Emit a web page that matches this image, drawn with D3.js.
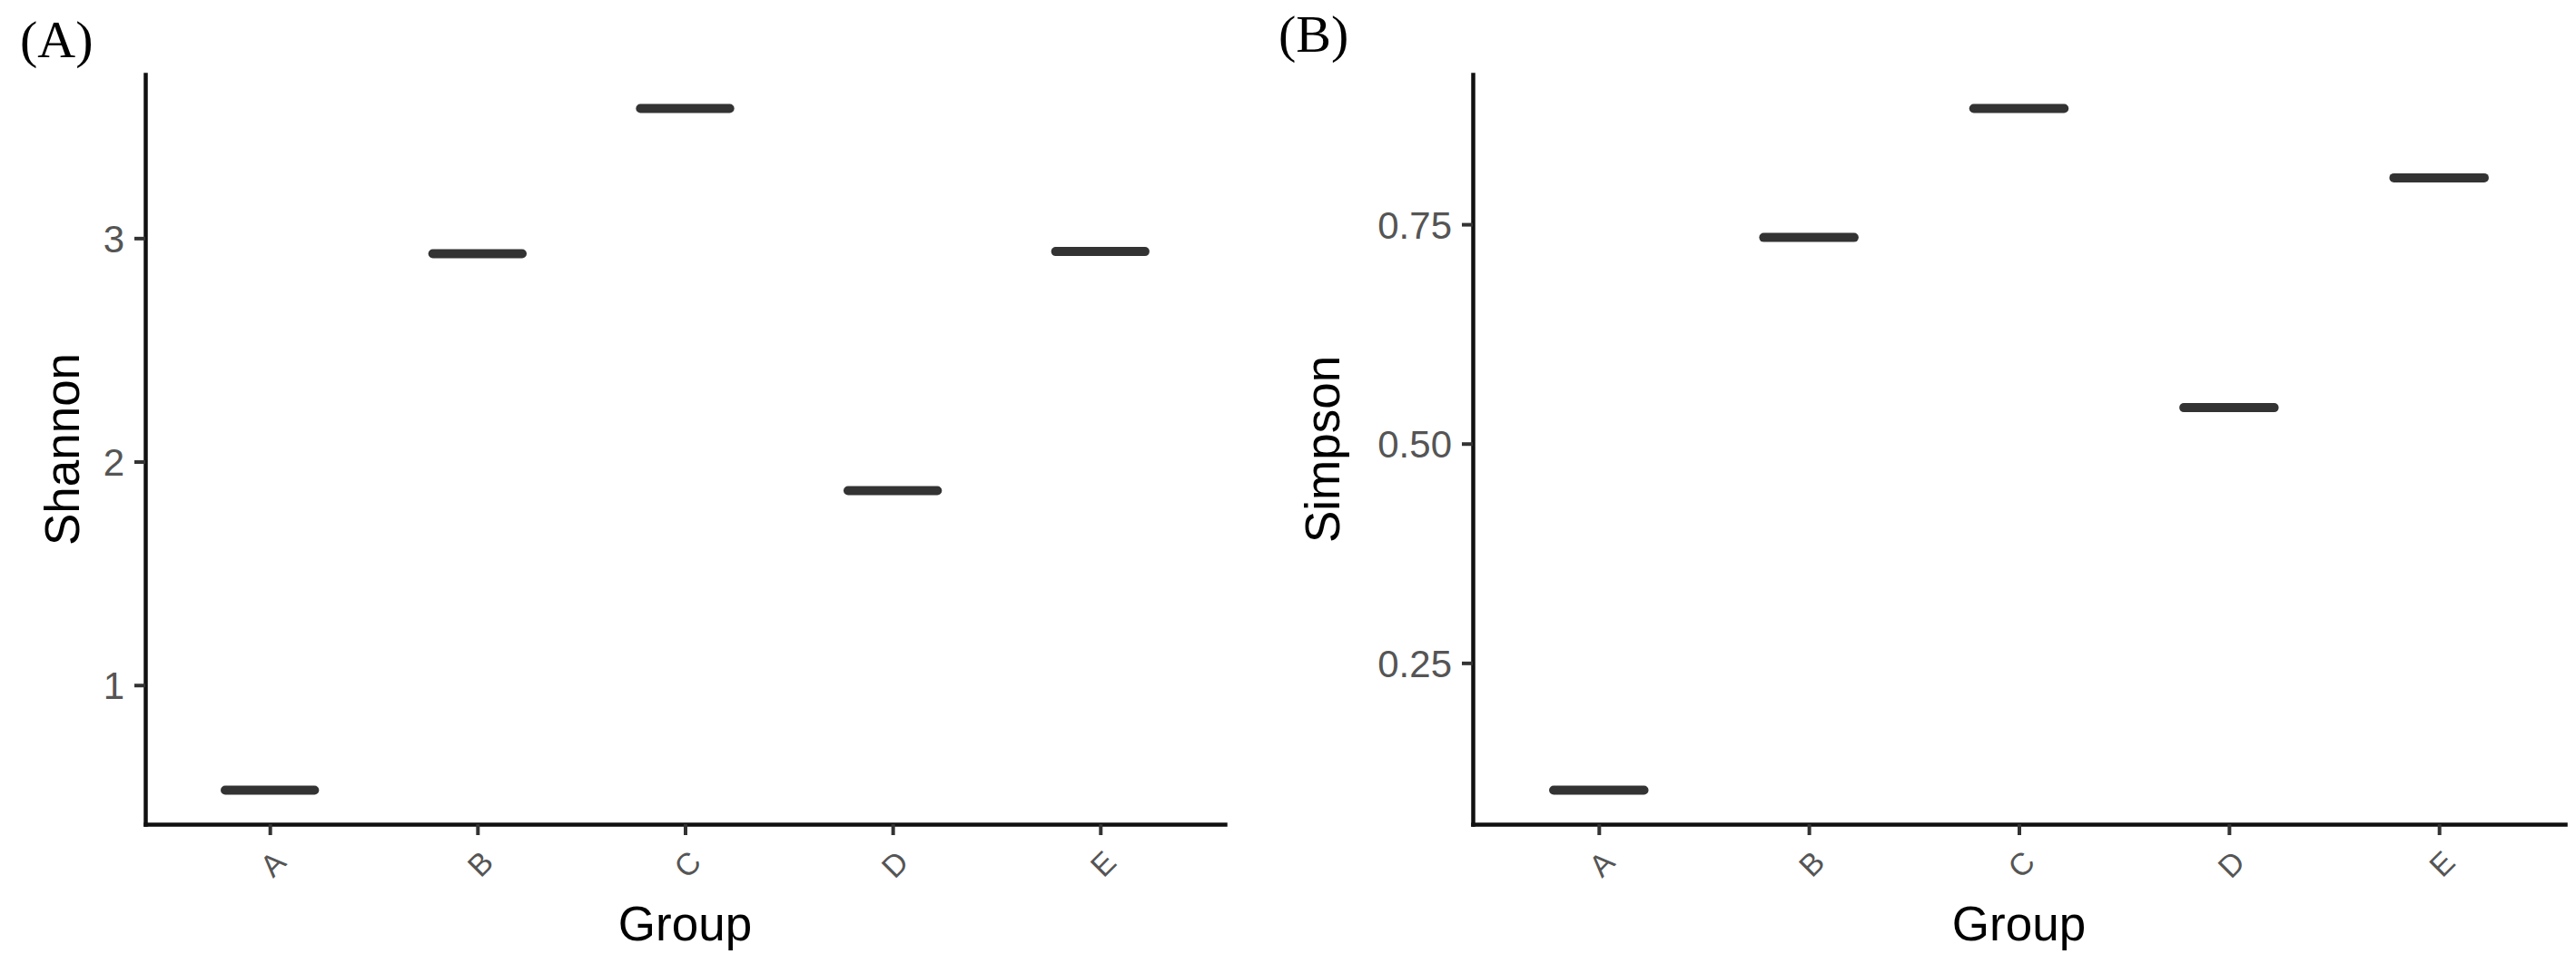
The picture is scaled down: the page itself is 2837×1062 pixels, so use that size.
<!DOCTYPE html>
<html>
<head>
<meta charset="utf-8">
<script src="https://cdn.jsdelivr.net/npm/d3@7"></script>
<style>
  body { margin: 0; background: #fff; }
  svg { display: block; }
</style>
</head>
<body>
<div id="chart"></div>
<script>
// data
var groups = ['A', 'B', 'C', 'D', 'E'];
var shannon = [0.53, 2.93, 3.58, 1.87, 2.94];
var simpson = [0.105, 0.735, 0.882, 0.541, 0.803];
var shannonTicks = [1, 2, 3];
var simpsonTicks = [0.25, 0.50, 0.75];

var width = 2837;
var height = 1062;
var plotTop = 82;
var plotBottom = 908;

var sans = "'Liberation Sans', Arial, sans-serif";
var serif = "'Liberation Serif', 'Times New Roman', serif";

var panels = [
  { label: '(A)', labelX: 22, labelY: 63, title: 'Shannon', titleX: 87,
    values: shannon, ticks: shannonTicks, fmt: 'd', left: 160, right: 1349 },
  { label: '(B)', labelX: 1408, labelY: 57, title: 'Simpson', titleX: 1475,
    values: simpson, ticks: simpsonTicks, fmt: '.2f', left: 1622, right: 2825 }
];

var svg = d3.select('#chart')
  .append('svg')
  .attr('width', width)
  .attr('height', height)
  ;

panels.forEach(function(p){
  var g = svg.append('g');

  var x = d3.scalePoint()
    .domain(groups)
    .range([p.left, p.right])
    .padding(0.6)
    ;

  // ggplot style 5% expansion of the data range
  var ext = d3.extent(p.values);
  var pad = (ext[1] - ext[0]) * 0.05;
  var y = d3.scaleLinear()
    .domain([ext[0] - pad, ext[1] + pad])
    .range([plotBottom, plotTop])
    ;

  // median lines
  var half = x.step() * 0.215;
  g.selectAll('line.med')
    .data(groups)
    .enter()
    .append('line')
    .attr('class', 'med')
    .attr('x1', function(d){ return x(d) - half; })
    .attr('x2', function(d){ return x(d) + half; })
    .attr('y1', function(d, i){ return y(p.values[i]); })
    .attr('y2', function(d, i){ return y(p.values[i]); })
    .attr('stroke', '#333')
    .attr('stroke-width', 10)
    .attr('stroke-linecap', 'round')
    ;

  // y axis
  var yAxis = g.append('g')
    .attr('transform', 'translate(' + p.left + ',0)')
    .call(d3.axisLeft(y)
      .tickValues(p.ticks)
      .tickFormat(d3.format(p.fmt))
      .tickSize(12)
      .tickSizeOuter(0)
      .tickPadding(11));

  yAxis.selectAll('text')
    .style('font-family', sans)
    .style('font-size', '42px')
    .attr('fill', '#555')
    .attr('dy', '0.36em')
    ;

  // x axis
  var xAxis = g.append('g')
    .attr('transform', 'translate(0,' + plotBottom + ')')
    .call(d3.axisBottom(x)
      .tickSize(12)
      .tickSizeOuter(0));

  xAxis.selectAll('text')
    .attr('y', null)
    .attr('dy', null)
    .attr('text-anchor', 'end')
    .attr('transform', 'translate(19,44) rotate(-45)')
    .style('font-family', sans)
    .style('font-size', '34px')
    .attr('fill', '#555')
    ;

  g.selectAll('.domain')
    .attr('stroke', '#111')
    .attr('stroke-width', 4.5)
    .attr('stroke-linecap', 'square')
    ;
  g.selectAll('.tick line')
    .attr('stroke', '#333')
    .attr('stroke-width', 4)
    ;

  // axis titles
  g.append('text')
    .attr('x', (p.left + p.right) / 2)
    .attr('y', 1036)
    .attr('text-anchor', 'middle')
    .style('font-family', sans)
    .style('font-size', '53px')
    .attr('fill', '#000')
    .text('Group')
    ;

  g.append('text')
    .attr('transform', 'translate(' + p.titleX + ',' + ((plotTop + plotBottom) / 2) + ') rotate(-90)')
    .attr('text-anchor', 'middle')
    .style('font-family', sans)
    .style('font-size', '53px')
    .attr('fill', '#000')
    .text(p.title)
    ;

  // panel letter
  g.append('text')
    .attr('x', p.labelX)
    .attr('y', p.labelY)
    .style('font-family', serif)
    .style('font-size', '58px')
    .attr('fill', '#000')
    .text(p.label)
    ;
});
</script>
</body>
</html>
